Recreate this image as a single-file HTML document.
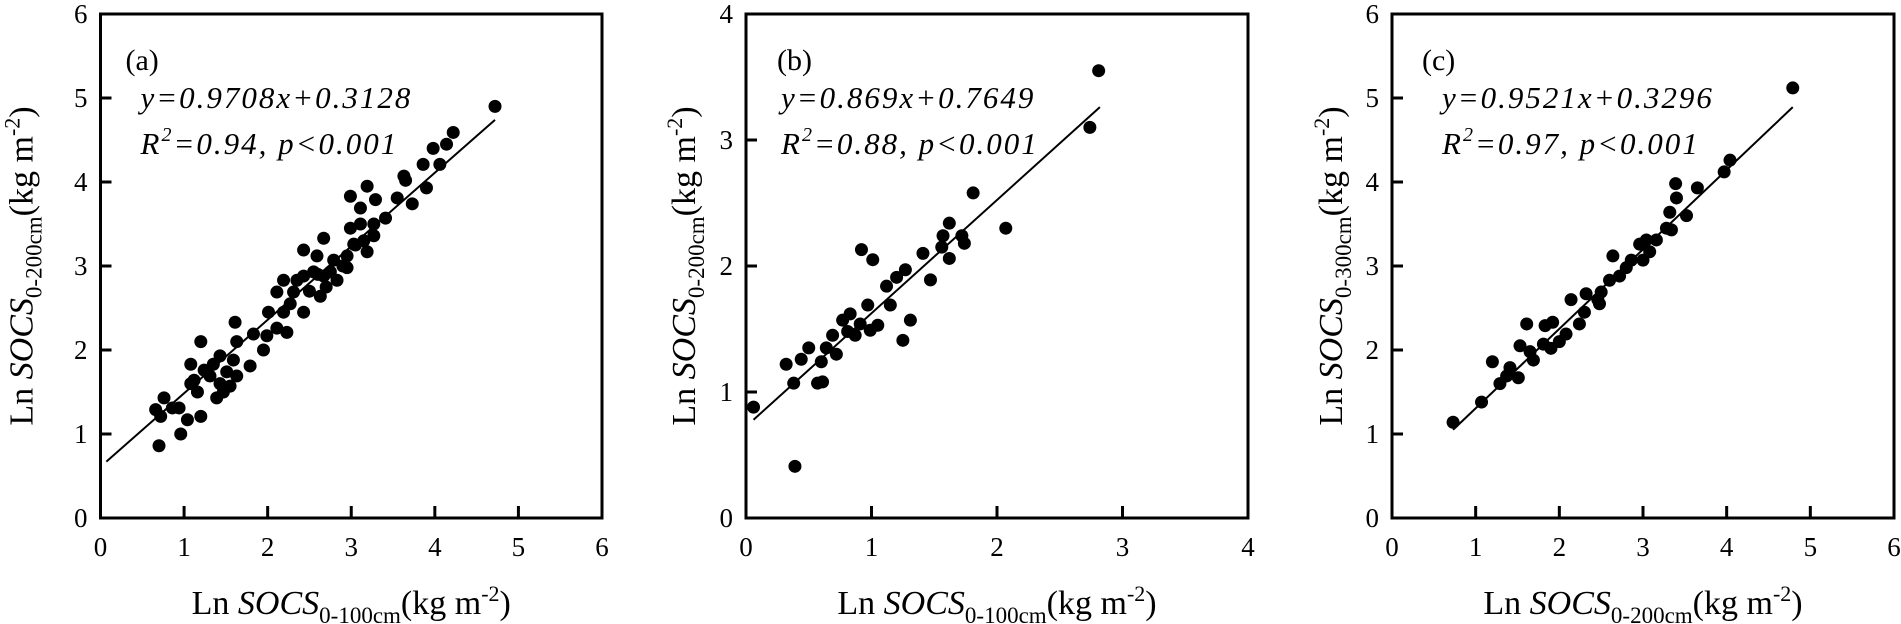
<!DOCTYPE html>
<html><head><meta charset="utf-8"><style>
html,body{margin:0;padding:0;background:#fff;}
svg{display:block;font-family:"Liberation Serif",serif;}
</style></head><body>
<svg id="chart" width="1901" height="624" viewBox="0 0 1901 624" xmlns="http://www.w3.org/2000/svg"></svg>
<script>
// Panel (a)
const aX = [4.72,4.22,4.14,3.98,4.06,3.86,3.90,3.63,3.65,3.73,3.55,3.41,3.19,3.29,3.11,2.99,3.27,3.27,3.11,2.99,3.03,3.19,2.95,2.95,2.83,2.67,2.79,2.59,2.43,2.55,2.63,2.67,2.75,2.43,2.35,2.31,2.43,2.19,2.11,2.19,2.27,2.23,2.11,2.01,1.99,1.83,1.95,1.79,1.61,1.63,1.59,1.63,1.51,1.43,1.35,1.43,1.39,1.47,1.55,1.31,1.20,1.24,1.12,1.08,1.16,1.08,1.04,1.20,0.96,0.94,0.86,0.76,0.66,0.72,0.70,2.70,2.60,2.50,2.90,3.05,3.15];
const aY = [4.90,4.59,4.45,4.40,4.21,4.21,3.93,4.07,4.02,3.74,3.81,3.57,3.95,3.79,3.69,3.83,3.50,3.36,3.50,3.45,3.26,3.17,3.12,2.98,2.83,3.33,3.07,3.12,3.19,2.93,2.64,2.88,2.93,2.88,2.83,2.69,2.45,2.83,2.69,2.45,2.55,2.21,2.26,2.45,2.17,2.19,2.00,1.81,2.33,2.10,1.88,1.69,1.74,1.93,1.83,1.60,1.43,1.50,1.57,1.69,2.10,1.76,1.64,1.83,1.50,1.60,1.17,1.21,1.00,1.31,1.31,1.43,1.29,1.21,0.86,2.75,2.90,2.70,3.00,3.25,3.30];
const aFit = [0.61, 0.875], aRange = [0.07, 4.72];
// Panel (b)
const bX = [0.06,0.39,0.32,0.38,0.44,0.50,0.60,0.57,0.61,0.64,0.69,0.72,0.77,0.83,0.81,0.87,0.91,0.97,0.99,1.05,0.92,1.01,1.12,1.15,1.20,1.27,1.25,1.31,1.41,1.47,1.56,1.57,1.62,1.62,1.72,1.74,1.81,2.07,2.81,2.74];
const bY = [0.88,0.41,1.22,1.07,1.26,1.35,1.24,1.07,1.08,1.35,1.45,1.30,1.57,1.62,1.48,1.45,1.54,1.69,1.49,1.53,2.13,2.05,1.84,1.69,1.91,1.97,1.41,1.57,2.10,1.89,2.15,2.24,2.34,2.06,2.24,2.18,2.58,2.30,3.55,3.10];
const bFit = [0.726, 0.899], bRange = [0.06, 2.82];
// Panel (c)
const cX = [0.73,1.07,1.20,1.29,1.37,1.41,1.51,1.53,1.61,1.69,1.65,1.83,1.92,1.81,1.90,2.08,2.00,2.14,2.24,2.30,2.32,2.46,2.50,2.48,2.60,2.64,2.72,2.80,2.86,2.96,3.04,3.08,3.00,3.16,3.28,3.32,3.34,3.40,3.39,3.52,3.65,3.97,4.04,4.79];
const cY = [1.14,1.38,1.86,1.60,1.69,1.79,1.67,2.05,2.31,1.88,1.98,2.29,2.33,2.07,2.02,2.19,2.10,2.60,2.31,2.45,2.67,2.60,2.69,2.55,2.83,3.12,2.88,2.98,3.07,3.26,3.31,3.17,3.07,3.31,3.45,3.64,3.43,3.81,3.98,3.60,3.93,4.12,4.26,5.12];
const cFit = [0.36, 0.946], cRange = [0.73, 4.79];
const xTicksA = ["0","1","2","3","4","5","6"], yTicksA = ["0","1","2","3","4","5","6"];
const xTicksB = ["0","1","2","3","4"], yTicksB = ["0","1","2","3","4"];

const NS = "http://www.w3.org/2000/svg";
const svg = document.getElementById("chart");
function mk(tag, attrs, parent){
  const e = document.createElementNS(NS, tag);
  for (const k in attrs) e.setAttribute(k, attrs[k]);
  (parent||svg).appendChild(e); return e;
}
function panel(o){
  const g = mk("g", {});
  
  
  const L=o.left, R=o.right, T=14, B=518;
  const sx = v => L + v / o.xmax * (R - L);
  const sy = v => B - v / o.ymax * (B - T);
  o.xt.forEach(t=>{
    const v = +t, x = sx(v);
    if (v>0 && v<o.xmax){ const tk = mk("line",{x1:x,x2:x,y1:B,y2:B-12,stroke:"#000","stroke-width":3},g);
        }
    const tl = mk("text",{x:x,y:556,"font-size":27,"text-anchor":"middle"},g); tl.textContent=t;
     
  });
  o.yt.forEach(t=>{
    const v=+t, y=sy(v);
    if (v>0 && v<o.ymax){ const tk = mk("line",{x1:L,x2:L+11,y1:y,y2:y,stroke:"#000","stroke-width":3},g);
        }
    const tl = mk("text",{x:L-13,y:y+9,"font-size":27,"text-anchor":"end"},g); tl.textContent=t;
     
  });
  const fr = mk("rect",{x:L,y:T,width:R-L,height:B-T,fill:"none",stroke:"#000","stroke-width":3},g);
   
  o.X.forEach((xv,i)=>{
    const c = mk("circle",{cx:sx(xv),cy:sy(o.Y[i]),r:6.5,fill:"#000"},g);
     
  });
  const f = x => o.fit[0] + o.fit[1]*x;
  const ln = mk("line",{x1:sx(o.range[0]),y1:sy(f(o.range[0])),x2:sx(o.range[1]),y2:sy(f(o.range[1])),stroke:"#000","stroke-width":2},g);
   
  const pl = mk("text",{x:L+o.lx,y:70,"font-size":30},g); pl.textContent="("+o.id+")";
   
  const eq = mk("text",{x:L+o.ex,y:108,"font-size":31,"font-style":"italic","letter-spacing":"2"},g); eq.textContent=o.eq;
   
  const r2 = mk("text",{x:L+o.ex,y:154,"font-size":31,"font-style":"italic","letter-spacing":"2"},g);
  r2.innerHTML = 'R<tspan font-size="20" dy="-13">2</tspan><tspan dy="13">=' + o.r2 + ', p&lt;0.001</tspan>';
   
  const xt = mk("text",{x:(L+R)/2,y:614,"font-size":34,"text-anchor":"middle"},g);
  xt.innerHTML = 'Ln <tspan font-style="italic">SOCS</tspan><tspan font-size="23" dy="9">'+o.xsub+'</tspan><tspan dy="-9">(kg m</tspan><tspan font-size="22" dy="-13">-2</tspan><tspan dy="13">)</tspan>';
   
  const yx = L + o.yoff, yc = (T+B)/2;
  const yt = mk("text",{x:0,y:0,"font-size":34,"text-anchor":"middle",transform:"translate("+yx+","+yc+") rotate(-90)"},g);
  yt.innerHTML = 'Ln <tspan font-style="italic">SOCS</tspan><tspan font-size="23" dy="9">'+o.ysub+'</tspan><tspan dy="-9">(kg m</tspan><tspan font-size="22" dy="-13">-2</tspan><tspan dy="13">)</tspan>';
   
}
panel({id:"a",left:100.5,right:602,xmax:6,ymax:6,xt:xTicksA,yt:yTicksA,X:aX,Y:aY,fit:aFit,range:aRange,lx:25,ex:40,eq:"y=0.9708x+0.3128",r2:"0.94",xsub:"0-100cm",ysub:"0-200cm",yoff:-68});
panel({id:"b",left:746,right:1248,xmax:4,ymax:4,xt:xTicksB,yt:yTicksB,X:bX,Y:bY,fit:bFit,range:bRange,lx:31,ex:35,eq:"y=0.869x+0.7649",r2:"0.88",xsub:"0-100cm",ysub:"0-200cm",yoff:-51});
panel({id:"c",left:1392,right:1894,xmax:6,ymax:6,xt:xTicksA,yt:yTicksA,X:cX,Y:cY,fit:cFit,range:cRange,lx:30,ex:50,eq:"y=0.9521x+0.3296",r2:"0.97",xsub:"0-200cm",ysub:"0-300cm",yoff:-50});
</script>
</body></html>
